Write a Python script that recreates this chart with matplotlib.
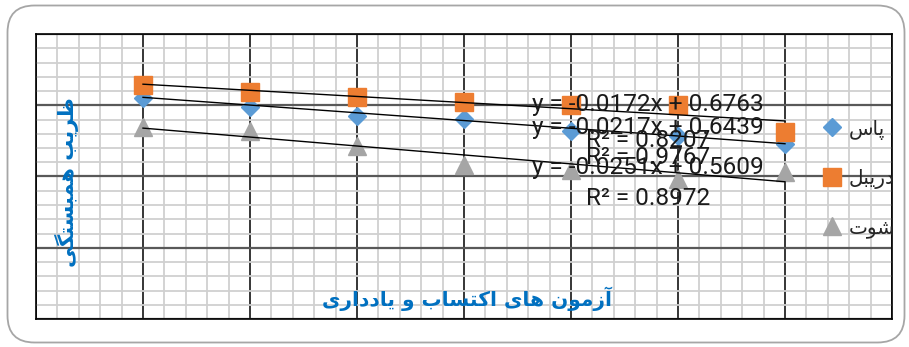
import matplotlib
matplotlib.use("Agg")
import numpy as np
import matplotlib.pyplot as plt
from matplotlib.patches import FancyBboxPatch
from matplotlib.ticker import MultipleLocator

# Persian strings are stored in visual (left-to-right, pre-shaped) order,
# because matplotlib does no Arabic shaping or bidi on its own
LBL_PASS = "\uFEB1\uFE8E\uFB58"                      # پاس
LBL_DRIBBLE = "\uFEDE\uFE92\uFEF3\uFEAD\uFEA9"        # دریبل
LBL_SHOOT = "\uFE95\uFEEE\uFEB7"                      # شوت
Y_TITLE = "\uFEF0\uFB95\uFE98\uFEB4\uFE92\uFEE4\uFEEB \uFE90\uFEF3\uFEAE\uFEC7"  # ضریب همبستگی
X_TITLE = ("\uFEEF\uFEAD\uFE8D\uFEA9\uFEA9\uFE8E\uFEF3 \uFEED "
           "\uFE8F\uFE8E\uFEB4\uFE98\uFB90\uFE8D \uFEEF\uFE8E\uFEEB "
           "\uFEE5\uFEEE\uFEE3\uFEAF\uFE81")            # آزمون های اکتساب و یادداری

# Data
tests = [1, 2, 3, 4, 5, 6, 7]
pass_vals = [0.620, 0.594, 0.570, 0.561, 0.527, 0.513, 0.490]
dribble_vals = [0.657, 0.637, 0.624, 0.610, 0.601, 0.601, 0.524]
shoot_vals = [0.538, 0.527, 0.485, 0.431, 0.418, 0.393, 0.412]

# Excel trendlines (slope, intercept) and their R^2
pass_fit = (-0.0217, 0.6439)
dribble_fit = (-0.0172, 0.6763)
shoot_fit = (-0.0251, 0.5609)
eq_texts = ["y = -0.0172x + 0.6763", "y = -0.0217x + 0.6439", "y = -0.0251x + 0.5609"]
r2_texts = ["R\u00b2 = 0.8207", "R\u00b2 = 0.9767", "R\u00b2 = 0.8972"]

BLUE = "#5B9BD5"
ORANGE = "#ED7D31"
GRAY = "#A5A5A5"
TITLE_BLUE = "#0070C0"

fig = plt.figure(figsize=(9.09, 3.47), dpi=100)

# rounded chart border
border = FancyBboxPatch((0.075, 0.045), 8.97, 3.37,
                        boxstyle="round,pad=0,rounding_size=0.27",
                        transform=fig.dpi_scale_trans, facecolor="none",
                        edgecolor="#A6A6A6", linewidth=1.3, zorder=0)
fig.patches.append(border)

ax = fig.add_axes([36 / 909, 28 / 347, 856 / 909, 285 / 347])
ax.set_facecolor("none")
ax.set_xlim(0, 8)
ax.set_ylim(0, 0.8)
ax.xaxis.set_major_locator(MultipleLocator(1))
ax.xaxis.set_minor_locator(MultipleLocator(0.2))
ax.yaxis.set_major_locator(MultipleLocator(0.2))
ax.yaxis.set_minor_locator(MultipleLocator(0.04))
ax.tick_params(which="both", length=0, labelbottom=False, labelleft=False)
ax.grid(which="minor", color="#D0D0D0", linewidth=1.3, zorder=0)
ax.grid(which="major", axis="x", color="black", linewidth=1.1, zorder=0)
ax.grid(which="major", axis="y", color="#595959", linewidth=1.6, zorder=0)
ax.set_axisbelow(True)
for sp in ax.spines.values():
    sp.set_color("black")
    sp.set_linewidth(1.2)

# series
ax.plot(tests, pass_vals, ls="none", marker="D", ms=9.5, color=BLUE, label=LBL_PASS, zorder=3)
ax.plot(tests, dribble_vals, ls="none", marker="s", ms=12.5, color=ORANGE, label=LBL_DRIBBLE, zorder=3)
ax.plot(tests, shoot_vals, ls="none", marker="^", ms=13, color=GRAY, label=LBL_SHOOT, zorder=3)

# trendlines over the data range
xs = np.array([tests[0], tests[-1]])
for slope, icpt in [dribble_fit, pass_fit, shoot_fit]:
    ax.plot(xs, slope * xs + icpt, color="black", lw=1.0, zorder=4)

# trendline labels (positions in axes fraction)
eq_pos = [(0.580, 0.752), (0.580, 0.671), (0.580, 0.532)]
r2_pos = [(0.642, 0.628), (0.642, 0.565), (0.642, 0.424)]
for t, (px, py) in zip(eq_texts, eq_pos):
    ax.text(px, py, t, transform=ax.transAxes, fontsize=17.6, family="Roboto",
            color="#1a1a1a", va="center", ha="left", zorder=5)
for t, (px, py) in zip(r2_texts, r2_pos):
    ax.text(px, py, t, transform=ax.transAxes, fontsize=17.6, family="Roboto",
            color="#1a1a1a", va="center", ha="left", zorder=5)

# axis titles drawn inside the plot area, as in the original
ax.text(0.504, 0.07, X_TITLE, transform=ax.transAxes, fontsize=14.5, fontweight="bold",
        color=TITLE_BLUE, ha="center", va="center", zorder=5)
ax.text(0.036, 0.48, Y_TITLE, transform=ax.transAxes, fontsize=15, fontweight="bold",
        color=TITLE_BLUE, ha="center", va="center", rotation=90, zorder=5)

leg = ax.legend(loc="upper left", bbox_to_anchor=(0.918, 0.70), frameon=False,
                fontsize=14.5, labelspacing=1.45, handlelength=1.0, handletextpad=0.35,
                borderpad=0, borderaxespad=0)
for txt in leg.get_texts():
    txt.set_color("#262626")

fig.savefig("out.png", dpi=100)
